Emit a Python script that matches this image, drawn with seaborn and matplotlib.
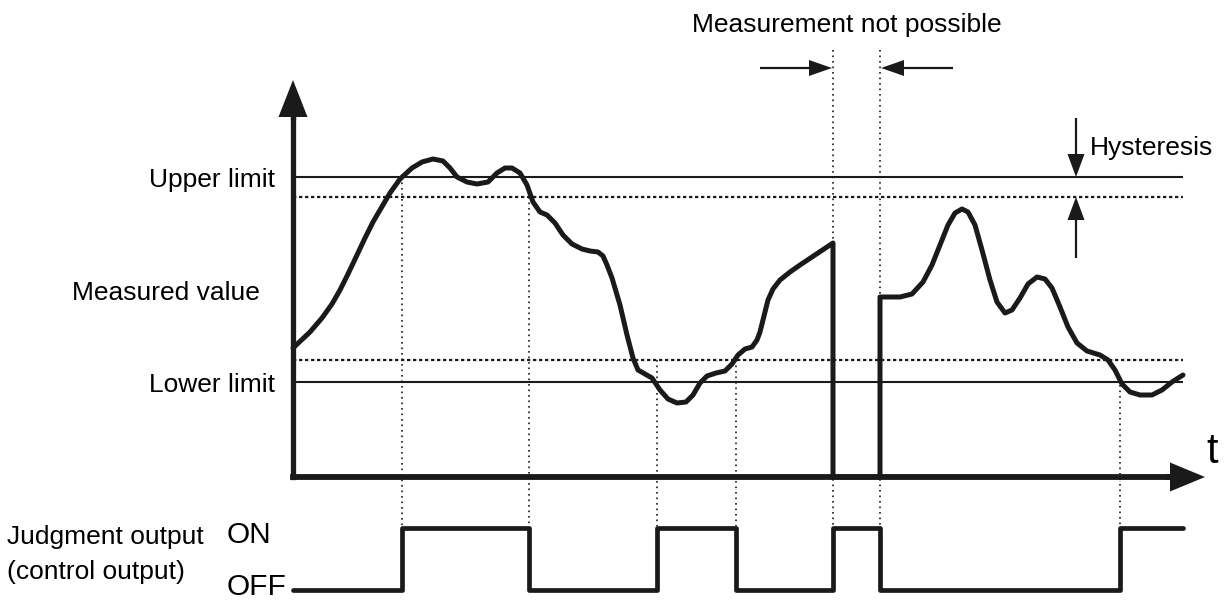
import matplotlib
matplotlib.use("Agg")
import matplotlib.pyplot as plt
import numpy as np
import pandas as pd
import seaborn as sns

sns.set_theme(style="white")
plt.rcParams['font.family'] = ['Liberation Sans', 'DejaVu Sans']
plt.rcParams['text.color'] = 'black'

# everything is laid out in pixel units, y grows downward
W, H = 1224, 601
X0, Y0 = 293, 477          # corner of the value / time axes
Y_TIP, X_TIP = 80, 1205
LINE_END = 1183
UPPER, UPPER_HYST = 177, 197
LOWER_HYST, LOWER = 360, 382
ON_Y, OFF_Y = 528, 590

# measured value (drops to zero while measurement is not possible)
curve_t = [293, 310, 322, 332, 340, 348, 357, 365, 373, 380, 390, 400, 412, 422,
           433, 443, 450, 457, 467, 477, 488, 497, 505, 512, 520, 527, 533, 540,
           547, 555, 563, 572, 582, 590, 598, 603, 607, 612, 620, 627, 633, 638,
           645, 652, 660, 668, 677, 686, 693, 700, 707, 716, 725, 732, 738, 745,
           752, 757, 760, 763, 768, 773, 780, 790, 800, 815, 833,
           833, 880,
           880, 900, 912, 923, 932, 940, 948, 955, 962, 968, 975, 982, 990, 997,
           1005, 1012, 1020, 1028, 1037, 1045, 1052, 1060, 1068, 1077, 1087, 1100,
           1108, 1115, 1122, 1130, 1140, 1152, 1162, 1172, 1183]
curve_v = [348, 332, 318, 304, 290, 274, 255, 238, 222, 210, 193, 179, 168, 162,
           159, 161, 168, 177, 182, 184, 182, 173, 168, 168, 173, 185, 202, 212,
           215, 223, 235, 244, 249, 251, 252, 256, 265, 278, 305, 335, 358, 370,
           374, 378, 390, 399, 403, 402, 395, 383, 376, 373, 371, 364, 355, 349,
           347, 340, 332, 320, 300, 289, 280, 272, 265, 255, 243,
           Y0, Y0,
           297, 297, 294, 282, 265, 245, 225, 213, 209, 212, 225, 250, 280, 302,
           313, 310, 298, 284, 277, 279, 288, 307, 327, 343, 351, 355,
           360, 370, 384, 392, 395, 395, 390, 382, 375]

# judgment output switching instants and states (1 = ON)
switch_t = [293, 402, 529, 657, 736, 833, 880, 1120, 1183]
switch_state = [0, 1, 0, 1, 0, 1, 0, 1, 1]

# dotted guides: x position and where they start
guide_x = [402, 529, 657, 736, 833, 880, 1120]
guide_top = [177, 197, 360, 360, 50, 50, 385]

fig = plt.figure(figsize=(W / 100, H / 100), dpi=100)
ax = fig.add_axes([0, 0, 1, 1])
ax.set_xlim(0, W)
ax.set_ylim(H, 0)

# limit lines
ax.hlines([UPPER, LOWER], X0, LINE_END, color='k', lw=1.5, zorder=2)
ax.hlines([UPPER_HYST, LOWER_HYST], X0, LINE_END, color='k', lw=1.6,
          linestyles=[(0, (1.5, 1.2))], zorder=2)

# dotted guides
ax.vlines(guide_x, guide_top, ON_Y - 2, color='k', lw=1.2,
          linestyles=[(0, (1, 2.3))], zorder=1)

# measured value
df = pd.DataFrame({'t': curve_t, 'v': curve_v})
sns.lineplot(data=df, x='t', y='v', sort=False, estimator=None, color='k',
             lw=3.6, ax=ax, zorder=4)
ax.lines[-1].set_solid_joinstyle('round')

# judgment output
out = pd.DataFrame({'t': switch_t,
                    'y': [ON_Y if s else OFF_Y for s in switch_state]})
sns.lineplot(data=out, x='t', y='y', sort=False, estimator=None, color='k',
             lw=3.4, drawstyle='steps-post', ax=ax, zorder=4)
ax.set_xlabel('')
ax.set_ylabel('')
ax.axis('off')


def arrow(x0, y0, x1, y1, lw, hl, hw):
    d = np.array([x1 - x0, y1 - y0], dtype=float)
    u = d / np.hypot(*d)
    n = np.array([-u[1], u[0]])
    base = np.array([x1, y1]) - u * hl
    ax.plot([x0, base[0] + u[0]], [y0, base[1] + u[1]], color='k', lw=lw,
            solid_capstyle='butt', zorder=5)
    tri = np.array([[x1, y1], base + n * hw, base - n * hw])
    ax.fill(tri[:, 0], tri[:, 1], color='k', lw=0, zorder=5)


# axes
ax.plot([X0, X0], [Y0, Y_TIP + 30], color='k', lw=3.8, solid_capstyle='projecting', zorder=5)
ax.plot([X0, X_TIP - 30], [Y0, Y0], color='k', lw=4.2, solid_capstyle='projecting', zorder=5)
arrow(X0, Y_TIP + 40, X0, Y_TIP, 3.8, 37, 14.5)
arrow(X_TIP - 40, Y0, X_TIP, Y0, 4.2, 35, 14.5)

# measurement not possible arrows
arrow(760, 68, 832, 68, 1.6, 23, 8)
arrow(953, 68, 881, 68, 1.6, 23, 8)

# hysteresis arrows
arrow(1076, 118, 1076, UPPER, 1.6, 23, 8.5)
arrow(1076, 258, 1076, UPPER_HYST, 1.6, 23, 8.5)

fs = 19
ax.text(847, 25, 'Measurement not possible', ha='center', va='center', fontsize=fs)
ax.text(1090, 148, 'Hysteresis', ha='left', va='center', fontsize=fs)
ax.text(275, 180, 'Upper limit', ha='right', va='center', fontsize=fs)
ax.text(166, 293, 'Measured value', ha='center', va='center', fontsize=fs)
ax.text(275, 385, 'Lower limit', ha='right', va='center', fontsize=fs)
ax.text(1212, 452, 't', ha='center', va='center', fontsize=30)
ax.text(227, 535, 'ON', ha='left', va='center', fontsize=21.5)
ax.text(227, 587, 'OFF', ha='left', va='center', fontsize=21.5)
ax.text(7, 537, 'Judgment output', ha='left', va='center', fontsize=fs)
ax.text(7, 572, '(control output)', ha='left', va='center', fontsize=fs)

fig.savefig('out.png', dpi=100, facecolor='white')
